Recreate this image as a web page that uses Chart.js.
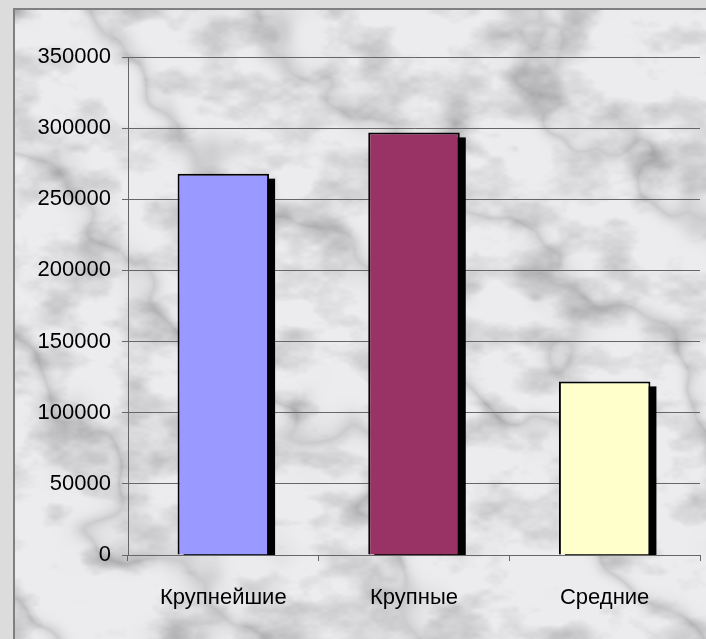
<!DOCTYPE html>
<html lang="ru">
<head>
    <meta charset="UTF-8">
    <title>Chart</title>
    <script src="https://cdn.jsdelivr.net/npm/chart.js"></script>
    <style>
        body {
            margin: 0;
            padding: 0;
            background-color: #dcdcdc;
            overflow: hidden;
        }
        canvas {
            display: block;
        }
    </style>
</head>
<body>
    <canvas id="chart" width="706" height="639"></canvas>

    <script>
        // Data
        const categories = ['Крупнейшие', 'Крупные', 'Средние'];
        const values = [268000, 297000, 122000];
        const barColors = ['#9999FF', '#993366', '#FFFFCC'];
        const yMax = 350000;
        const yStep = 50000;

        // simple seeded value noise for the marble background
        function hash(ix, iy) {
            const s = Math.sin(ix * 127.1 + iy * 311.7) * 43758.5453;
            return s - Math.floor(s);
        }
        function noise(x, y) {
            const ix = Math.floor(x), iy = Math.floor(y);
            const fx = x - ix, fy = y - iy;
            const ux = fx * fx * (3 - 2 * fx), uy = fy * fy * (3 - 2 * fy);
            const a = hash(ix, iy), b = hash(ix + 1, iy);
            const c = hash(ix, iy + 1), d = hash(ix + 1, iy + 1);
            return a + (b - a) * ux + (c - a) * uy + (a - b - c + d) * ux * uy;
        }
        function fbm(x, y, oct) {
            let v = 0, amp = 0.5, f = 1;
            for (let o = 0; o < oct; o++) {
                v += amp * noise(x * f, y * f);
                f *= 2;
                amp *= 0.5;
            }
            return v;
        }

        let marble = null;
        function makeMarble(w, h) {
            const c = document.createElement('canvas');
            c.width = w;
            c.height = h;
            const g = c.getContext('2d');
            const img = g.createImageData(w, h);
            for (let y = 0; y < h; y++) {
                for (let x = 0; x < w; x++) {
                    const t = fbm(x / 90, y / 90, 3);
                    const vein = 1 - Math.abs(Math.sin((x * 0.7 - y * 0.7) / 50 + t * 5));
                    const cloud = fbm(x / 40 + 20, y / 25 + 7, 4);
                    const dark = Math.pow(vein, 3) * 0.22 + Math.max(0, cloud - 0.42) * 0.7;
                    let v = 236 - dark * 150;
                    v = Math.max(165, Math.min(242, v));
                    const i = (y * w + x) * 4;
                    img.data[i] = v;
                    img.data[i + 1] = v;
                    img.data[i + 2] = v + 3;
                    img.data[i + 3] = 255;
                }
            }
            g.putImageData(img, 0, 0);
            return c;
        }

        const backgroundPlugin = {
            id: 'background',
            beforeDraw(chart) {
                const ctx = chart.ctx;
                ctx.save();
                ctx.fillStyle = '#dcdcdc';
                ctx.fillRect(0, 0, chart.width, chart.height);
                if (!marble) marble = makeMarble(chart.width - 15, chart.height - 10);
                ctx.drawImage(marble, 15, 10);
                ctx.strokeStyle = '#808080';
                ctx.lineWidth = 2;
                ctx.beginPath();
                ctx.moveTo(14, chart.height);
                ctx.lineTo(14, 9);
                ctx.lineTo(chart.width, 9);
                ctx.stroke();
                ctx.restore();
            }
        };

        // black drop shadow behind every bar
        const shadowPlugin = {
            id: 'barShadow',
            beforeDatasetsDraw(chart) {
                const ctx = chart.ctx;
                const area = chart.chartArea;
                ctx.save();
                ctx.beginPath();
                ctx.rect(area.left, area.top, area.right - area.left, area.bottom - area.top);
                ctx.clip();
                ctx.fillStyle = '#000000';
                chart.getDatasetMeta(0).data.forEach(bar => {
                    const left = bar.x - bar.width / 2;
                    ctx.fillRect(left + 6, bar.y + 5, bar.width, bar.base - bar.y);
                });
                ctx.restore();
            }
        };

        const tickFont = { family: "'Liberation Sans', Arial, sans-serif", size: 22 };

        new Chart(document.getElementById('chart'), {
            type: 'bar',
            data: {
                labels: categories,
                datasets: [{
                    data: values,
                    backgroundColor: barColors,
                    borderColor: '#000000',
                    borderWidth: 2,
                    categoryPercentage: 1,
                    barPercentage: 0.48
                }]
            },
            options: {
                responsive: false,
                animation: false,
                layout: {
                    padding: { left: 0, right: 6, top: 57, bottom: 0 }
                },
                plugins: {
                    legend: { display: false },
                    tooltip: { enabled: false }
                },
                scales: {
                    y: {
                        min: 0,
                        max: yMax,
                        ticks: {
                            stepSize: yStep,
                            color: '#000000',
                            font: tickFont,
                            padding: 11,
                            callback: v => String(v)
                        },
                        grid: {
                            color: '#666666',
                            lineWidth: 1,
                            tickLength: 6
                        },
                        border: { color: '#666666', width: 1 },
                        afterFit(scale) { scale.width = 128; }
                    },
                    x: {
                        ticks: {
                            color: '#000000',
                            font: tickFont,
                            padding: 24
                        },
                        grid: {
                            drawOnChartArea: false,
                            color: '#666666',
                            tickLength: 6
                        },
                        border: { color: '#666666', width: 1 },
                        afterFit(scale) { scale.height = 84; }
                    }
                }
            },
            plugins: [backgroundPlugin, shadowPlugin]
        });
    </script>
</body>
</html>
